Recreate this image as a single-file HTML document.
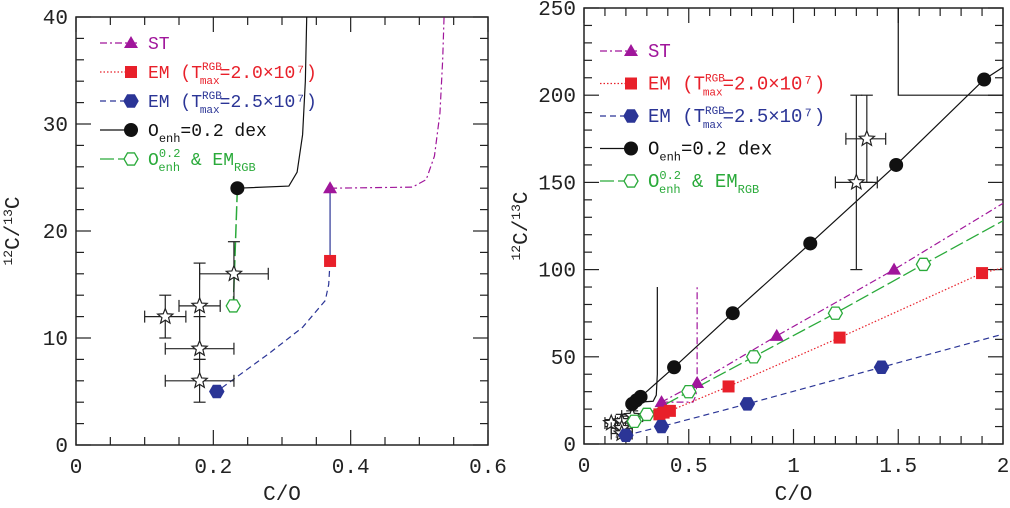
<!DOCTYPE html>
<html><head><meta charset="utf-8"><style>
html,body{margin:0;padding:0;background:#fff;width:1010px;height:508px;overflow:hidden}
svg text{font-family:"Liberation Mono","DejaVu Sans Mono",monospace}
</style></head><body>
<svg id="s" width="1010" height="508" viewBox="0 0 1010 508" xmlns="http://www.w3.org/2000/svg"></svg>
<script>
// ---- Left panel data ----
const L_black=[[0.235,24],[0.31,24.2],[0.322,25.5],[0.33,29],[0.334,34],[0.336,40]];
const L_st=[[0.37,24],[0.49,24.1],[0.51,24.8],[0.522,27],[0.53,31],[0.534,36],[0.536,40]];
const L_red=[[0.37,24],[0.37,17.2]];
const L_blue=[[0.37,17.2],[0.368,15],[0.363,13.5],[0.33,11],[0.28,8.5],[0.205,5]];
const L_green=[[0.235,24],[0.229,13]];
const L_stars=[[0.13,12,0.1,0.16,10,14],[0.18,13,0.15,0.21,9,17],[0.18,9,0.13,0.23,8,12],[0.18,6,0.13,0.23,4,8],[0.23,16,0.18,0.28,13,19]];
// ---- Right panel data ----
const R_black=[[0.23,23],[0.25,25],[0.27,27],[0.43,44],[0.71,75],[1.08,115],[1.49,160],[1.91,209],[2,216]];
const R_blackMarks=[[0.23,23],[0.25,25],[0.27,27],[0.43,44],[0.71,75],[1.08,115],[1.49,160],[1.91,209]];
const R_blackVert=[[0.26,24],[0.33,24.5],[0.345,28],[0.35,40],[0.35,90]];
const R_st=[[0.37,24],[0.54,35],[0.92,62],[1.48,100],[2,138]];
const R_stMarks=[[0.37,24],[0.54,35],[0.92,62],[1.48,100]];
const R_stVert=[[0.37,24],[0.52,24],[0.535,28],[0.54,40],[0.54,90]];
const R_green=[[0.24,13],[0.3,17],[0.5,30],[0.81,50],[1.2,75],[1.62,103],[2,128]];
const R_greenMarks=[[0.24,13],[0.3,17],[0.5,30],[0.81,50],[1.2,75],[1.62,103]];
const R_red=[[0.36,17],[0.38,18],[0.41,19],[0.69,33],[1.22,61],[1.9,98],[2,101]];
const R_redMarks=[[0.36,17],[0.38,18],[0.41,19],[0.69,33],[1.22,61],[1.9,98]];
const R_blue=[[0.2,5],[0.37,10],[0.78,23],[1.42,44],[2,63]];
const R_blueMarks=[[0.2,5],[0.37,10],[0.78,23],[1.42,44]];
const R_stars=[[1.3,150,1.2,1.4,100,200],[1.35,175,1.25,1.44,150,200],
 [0.13,12,0.1,0.16,10,14],[0.18,13,0.15,0.21,9,17],[0.18,9,0.13,0.23,8,12],[0.18,6,0.13,0.23,4,8],[0.23,16,0.18,0.28,13,19]];
const R_box=[[1.5,250],[1.5,200],[2,200]];
const L_xticks=["0","0.2","0.4","0.6"], L_yticks=["0","10","20","30","40"];
const R_xticks=["0","0.5","1","1.5","2"], R_yticks=["0","50","100","150","200","250"];

const S=document.getElementById('s');const NS='http://www.w3.org/2000/svg';
function el(t,a,p){const e=document.createElementNS(NS,t);for(const k in a)e.setAttribute(k,a[k]);(p||S).appendChild(e);return e;}
function panel(name,x0,x1,y0,y1,xmax,ymax,xminor,yminor){
  const g=el('g',{});
  
  
  const X=v=>x0+(x1-x0)*v/xmax, Y=v=>y0-(y0-y1)*v/ymax;
  return {g,X,Y,x0,x1,y0,y1,xmax,ymax,xminor,yminor};
}
function axes(P,xt,yt,xmaj,ymaj){
  const f=el('rect',{x:P.x0,y:P.y1,width:P.x1-P.x0,height:P.y0-P.y1,fill:'none',stroke:'#222','stroke-width':1.5},P.g);
  
  for(let v=0;v<=P.xmax+1e-9;v+=P.xminor){const maj=Math.abs(v/xmaj-Math.round(v/xmaj))<1e-6;const l=maj?15:8;const x=P.X(v);
    el('line',{x1:x,x2:x,y1:P.y0,y2:P.y0-l,stroke:'#222','stroke-width':1.2},P.g);el('line',{x1:x,x2:x,y1:P.y1,y2:P.y1+l,stroke:'#222','stroke-width':1.2},P.g);}
  for(let v=0;v<=P.ymax+1e-9;v+=P.yminor){const maj=Math.abs(v/ymaj-Math.round(v/ymaj))<1e-6;const l=maj?15:8;const y=P.Y(v);
    el('line',{x1:P.x0,x2:P.x0+l,y1:y,y2:y,stroke:'#222','stroke-width':1.2},P.g);el('line',{x1:P.x1,x2:P.x1-l,y1:y,y2:y,stroke:'#222','stroke-width':1.2},P.g);}
  xt.forEach(t=>{const e=el('text',{x:P.X(parseFloat(t)),y:P.y0+28,'font-size':21,'text-anchor':'middle',fill:'#222'},P.g);e.textContent=t;
    });
  yt.forEach(t=>{const e=el('text',{x:P.x0-8,y:P.Y(parseFloat(t))+7,'font-size':21,'text-anchor':'end',fill:'#222'},P.g);e.textContent=t;
    });
  const xl=el('text',{x:(P.x0+P.x1)/2,y:500,'font-size':21,'text-anchor':'middle',fill:'#222'},P.g);xl.textContent='C/O';
  
  const cy=(P.y0+P.y1)/2;const yl=el('text',{x:0,y:0,'font-size':21,'text-anchor':'middle',fill:'#222',transform:`translate(${P.x0-57},${cy}) rotate(-90)`},P.g);
  yl.innerHTML='<tspan font-size="13" dy="-7">12</tspan><tspan dy="7">C/</tspan><tspan font-size="13" dy="-7">13</tspan><tspan dy="7">C</tspan>';
  
}
function line(P,pts,c,dash,w,name){const e=el('polyline',{points:pts.map(p=>P.X(p[0])+','+P.Y(p[1])).join(' '),fill:'none',stroke:c,'stroke-width':w||1.2,'stroke-dasharray':dash||'none'},P.g);
  }
function mark(g,x,y,type,c,name){let e;
  if(type=='tri')e=el('polygon',{points:`${x},${y-7} ${x-7},${y+5} ${x+7},${y+5}`,fill:c},g);
  else if(type=='sq')e=el('rect',{x:x-6,y:y-6,width:12,height:12,fill:c},g);
  else if(type=='hex'||type=='ohex'){const p=[];for(let i=0;i<6;i++){const a=Math.PI/3*i;p.push((x+7*Math.cos(a))+','+(y+7*Math.sin(a)));}
    e=el('polygon',{points:p.join(' '),fill:type=='hex'?c:'#fff',stroke:c,'stroke-width':1.3},g);}
  else if(type=='dot')e=el('circle',{cx:x,cy:y,r:7,fill:c},g);
  else if(type=='star'){const p=[];for(let i=0;i<10;i++){const r=i%2?3.5:8;const a=-Math.PI/2+Math.PI/5*i;p.push((x+r*Math.cos(a))+','+(y+r*Math.sin(a)));}
    e=el('polygon',{points:p.join(' '),fill:'#fff',stroke:'#222','stroke-width':1.2},g);}
  }
function marks(P,pts,type,c,name){pts.forEach(p=>mark(P.g,P.X(p[0]),P.Y(p[1]),type,c,name));}
function stars(P,arr){arr.forEach(s=>{const g=el('g',{},P.g);
  const x=P.X(s[0]),y=P.Y(s[1]),xa=P.X(s[2]),xb=P.X(s[3]),ya=P.Y(s[4]),yb=P.Y(s[5]);
  const st={stroke:'#222','stroke-width':1.2};
  el('line',Object.assign({x1:xa,x2:xb,y1:y,y2:y},st),g);el('line',Object.assign({x1:x,x2:x,y1:ya,y2:yb},st),g);
  el('line',Object.assign({x1:xa,x2:xa,y1:y-6,y2:y+6},st),g);el('line',Object.assign({x1:xb,x2:xb,y1:y-6,y2:y+6},st),g);
  el('line',Object.assign({x1:x-6,x2:x+6,y1:ya,y2:ya},st),g);el('line',Object.assign({x1:x-6,x2:x+6,y1:yb,y2:yb},st),g);
  mark(g,x,y,'star','#222','star-marker');});}
function legend(P,lx,ly,dy,fs){
  const items=[['#a0169b','ST','tri','7,3,2,3'],['#e8202a','EM (T<tspan font-size="11" dy="-8">RGB</tspan><tspan font-size="11" dx="-22" dy="14">max</tspan><tspan dy="-6">=2.0×10⁷)</tspan>','sq','1.5,2'],
   ['#2b3596','EM (T<tspan font-size="11" dy="-8">RGB</tspan><tspan font-size="11" dx="-22" dy="14">max</tspan><tspan dy="-6">=2.5×10⁷)</tspan>','hex','6,4'],
   ['#111','O<tspan font-size="12" dy="6">enh</tspan><tspan dy="-6">=0.2 dex</tspan>','dot','none'],
   ['#2aaa3a','O<tspan font-size="12" dy="-8">0.2</tspan><tspan font-size="12" dx="-22" dy="14">enh</tspan><tspan dy="-6"> &amp; EM</tspan><tspan font-size="12" dy="6">RGB</tspan>','ohex','14,4']];
  items.forEach((it,i)=>{const g=el('g',{},P.g);
    const y=ly+i*dy;el('line',{x1:lx,x2:lx+38,y1:y,y2:y,stroke:it[0],'stroke-width':1.2,'stroke-dasharray':it[3]},g);
    mark(g,lx+31,y,it[2],it[0],'legend-marker');
    const t=el('text',{x:lx+48,y:y+6,'font-size':fs,fill:it[0]},g);t.innerHTML=it[1];});
}
// Left
const A=panel('left-panel',76,488,445,17,0.6,40,0.05,2);
axes(A,L_xticks,L_yticks,0.2,10);
line(A,L_black,'#111','none',1.2,'oenh-track');line(A,L_st,'#a0169b','7,3,2,3',1.2,'st-track');
line(A,L_red,'#2b3596','none',1.2,'em20-track');line(A,L_blue,'#2b3596','6,4',1.2,'em25-track');
line(A,L_green,'#2aaa3a','14,4',1.5,'oenh-em-track');
stars(A,L_stars);
mark(A.g,A.X(0.235),A.Y(24),'dot','#111','oenh-point');mark(A.g,A.X(0.37),A.Y(24),'tri','#a0169b','st-point');
mark(A.g,A.X(0.37),A.Y(17.2),'sq','#e8202a','em20-point');mark(A.g,A.X(0.205),A.Y(5),'hex','#2b3596','em25-point');
mark(A.g,A.X(0.229),A.Y(13),'ohex','#2aaa3a','oenh-em-point');
legend(A,100,43,29,18);
// Right
const B=panel('right-panel',584,1003,444,8,2,250,0.1,10);
axes(B,R_xticks,R_yticks,0.5,50);
line(B,R_box,'#111','none',1.2,'box-region');
line(B,R_blackVert,'#111','none',1.2,'oenh-vertical-track');line(B,R_stVert,'#a0169b','7,3,2,3',1.2,'st-vertical-track');
line(B,R_black,'#111','none',1.2,'oenh-line');line(B,R_st,'#a0169b','7,3,2,3',1.2,'st-line');
line(B,R_green,'#2aaa3a','14,4',1.3,'oenh-em-line');line(B,R_red,'#e8202a','1.5,2',1.2,'em20-line');line(B,R_blue,'#2b3596','6,4',1.2,'em25-line');
stars(B,R_stars);
marks(B,R_blackMarks,'dot','#111','oenh-point');marks(B,R_stMarks,'tri','#a0169b','st-point');
marks(B,R_greenMarks,'ohex','#2aaa3a','oenh-em-point');marks(B,R_redMarks,'sq','#e8202a','em20-point');marks(B,R_blueMarks,'hex','#2b3596','em25-point');
legend(B,600,51,32.5,19);
</script>
</body></html>
